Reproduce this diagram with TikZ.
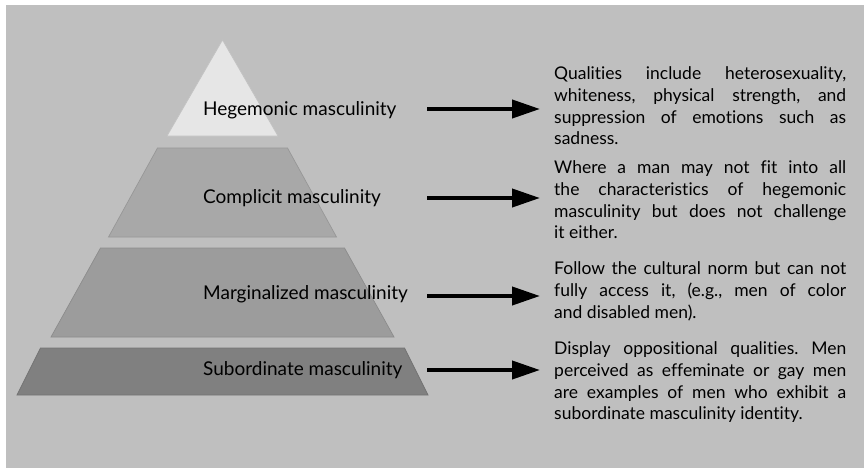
\documentclass[tikz,border=0pt]{standalone}
\usepackage{fontspec}
\setmainfont{Lato}[Ligatures={NoCommon, NoRare, NoContextual}]
\frenchspacing
\usetikzlibrary{arrows.meta, positioning}
\definecolor{bggray}{HTML}{BFBFBF}
\definecolor{lhege}{HTML}{E6E6E6}
\definecolor{lcompl}{HTML}{A8A8A8}
\definecolor{lmarg}{HTML}{9C9C9C}
\definecolor{lsubo}{HTML}{808080}
\tikzset{
  % strato della piramide
  tier/.style={line width=0.7pt},
  % nome dello strato
  tierlbl/.style={anchor=base west, inner sep=0pt, font=\fontsize{19}{22}\selectfont},
  % descrizione a destra
  desc/.style={anchor=north west, inner sep=0pt, text width=292pt, align=justify,
    font=\fontsize{17.5}{21.7}\selectfont},
  % freccia verso la descrizione
  pointer/.style={line width=4pt, -{Triangle[length=28pt, width=18pt]}, shorten >=14pt},
}
\begin{document}
\begin{tikzpicture}[x=1pt, y=-1pt]
  \useasboundingbox (0,0) rectangle (864,471);
  \fill[white] (0,0) rectangle (864,471);
  \fill[bggray] (6,5) rectangle (864,468);
  % piramide
  \filldraw[tier, fill=lhege, draw=lhege!85!black] (222.5,40) -- (278,136) -- (167,136) -- cycle;
  \filldraw[tier, fill=lcompl, draw=lcompl!90!black] (157.5,148) -- (287.5,148) -- (336.5,237) -- (108.5,237) -- cycle;
  \filldraw[tier, fill=lmarg, draw=lmarg!90!black] (100.5,248) -- (344.5,248) -- (394,337) -- (51,337) -- cycle;
  \filldraw[tier, fill=lsubo, draw=lsubo!90!black] (40.5,348) -- (404.5,348) -- (428,395) -- (17,395) -- cycle;
  % nomi
  \node[tierlbl] (lbl-hege) at (203,115) {Hegemonic masculinity};
  \node[tierlbl] (lbl-compl) at (203,203.3) {Complicit masculinity};
  \node[tierlbl] (lbl-marg) at (203,299.3) {Marginalized masculinity};
  \node[tierlbl] (lbl-subo) at (203,375) {Subordinate masculinity};
  % descrizioni
  \node[desc] (desc-hege) at (554,66.7) {Qualities include heterosexuality,\linebreak
    whiteness, physical strength, and\linebreak suppression of emotions such as\linebreak sadness.};
  \node[desc] (desc-compl) at (554,160.7) {Where a man may not fit into all\linebreak
    the characteristics of hegemonic\linebreak masculinity but does not challenge\linebreak it either.};
  \node[desc] (desc-marg) at (554,261.7) {Follow the cultural norm but can not\linebreak
    fully access it, (e.g., men of color\linebreak and disabled men).};
  \node[desc] (desc-subo) at (554,341.7) {Display oppositional qualities. Men\linebreak
    perceived as effeminate or gay men\linebreak are examples of men who exhibit a\linebreak
    subordinate masculinity identity.};
  % frecce
  \foreach \n/\y in {hege/109, compl/198, marg/296, subo/370} {
    \coordinate (tail-\n) at (427,\y);
    \draw[pointer] (tail-\n) -- (tail-\n -| desc-\n.west);
  }
\end{tikzpicture}
\end{document}
